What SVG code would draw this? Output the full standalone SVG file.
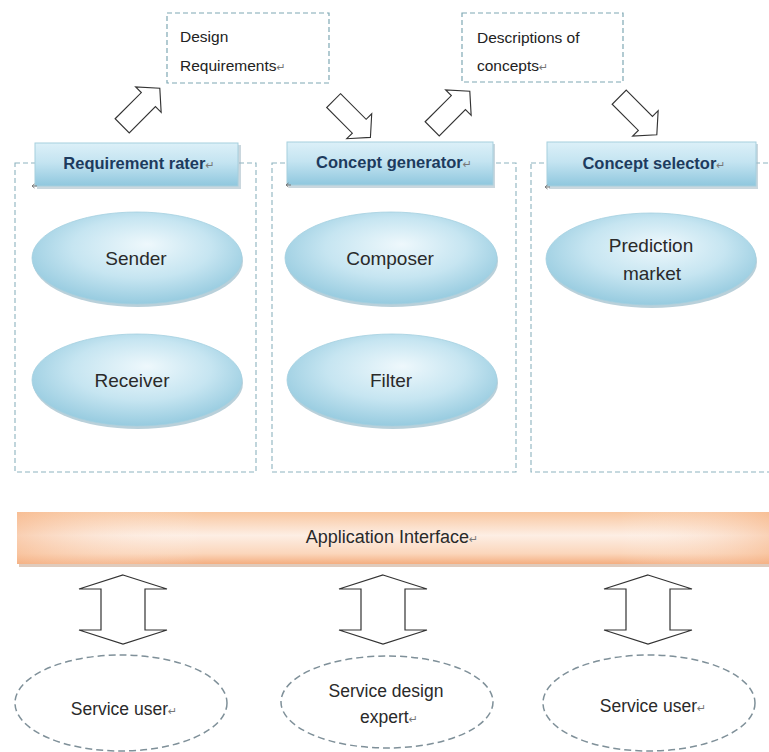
<svg xmlns="http://www.w3.org/2000/svg" width="769" height="752" viewBox="0 0 769 752">
  <defs>
    <linearGradient id="hdrFill" x1="0" y1="0" x2="0" y2="1">
      <stop offset="0" stop-color="#dcf0f8"/>
      <stop offset="0.45" stop-color="#c4e4f1"/>
      <stop offset="1" stop-color="#8fc7de"/>
    </linearGradient>
    <radialGradient id="ovalFill" cx="0.5" cy="0.42" r="0.6" fx="0.55" fy="0.35">
      <stop offset="0" stop-color="#eef8fc"/>
      <stop offset="0.55" stop-color="#c6e5f1"/>
      <stop offset="1" stop-color="#93c9de"/>
    </radialGradient>
    <linearGradient id="barFill" x1="0" y1="0" x2="0" y2="1">
      <stop offset="0" stop-color="#f9c7a0"/>
      <stop offset="0.45" stop-color="#fdeee4"/>
      <stop offset="0.8" stop-color="#fbd6bb"/>
      <stop offset="1" stop-color="#f4ae80"/>
    </linearGradient>
    <linearGradient id="barSide" x1="0" y1="0" x2="1" y2="0">
      <stop offset="0" stop-color="#f6b68a" stop-opacity="0.55"/>
      <stop offset="0.25" stop-color="#ffffff" stop-opacity="0"/>
      <stop offset="0.8" stop-color="#ffffff" stop-opacity="0"/>
      <stop offset="1" stop-color="#f6b68a" stop-opacity="0.5"/>
    </linearGradient>
    <!-- block arrow pointing right, centred on the origin -->
    <polygon id="blockArrow" points="-28,-10.5 11,-10.5 11,-19 28,0 11,19 11,10.5 -28,10.5"/>
    <!-- vertical two-headed block arrow, centred on x=0 -->
    <polygon id="dblArrow" points="0,575 44,589 22,589 22,630 44,630 0,644 -44,630 -22,630 -22,589 -44,589"/>
  </defs>
  <style>
    .note { fill: #ffffff; stroke: #7fa8b4; stroke-width: 1.2; stroke-dasharray: 5 3; }
    .zone { fill: none; stroke: #8db3bf; stroke-width: 1.1; stroke-dasharray: 5 3; }
    .hdr { fill: url(#hdrFill); stroke: #a6cfdd; stroke-width: 1; }
    .hdrShadow { fill: #9fb7c2; opacity: 0.55; }
    .oval { fill: url(#ovalFill); stroke: #a3cfe0; stroke-width: 0.8; }
    .ovalShadow { fill: #7fa9bb; opacity: 0.55; }
    .arrow { fill: #ffffff; stroke: #333333; stroke-width: 1.2; stroke-linejoin: miter; }
    .user { fill: #ffffff; stroke: #7f9099; stroke-width: 1.5; stroke-dasharray: 7 4; }
    .anchor { fill: none; stroke: #777777; stroke-width: 1; }
    text { font-family: "Liberation Sans", Arial, sans-serif; fill: #222222; }
    .t16 { font-size: 15.5px; }
    .hdrText { font-size: 16.5px; font-weight: bold; fill: #1d3b5e; text-anchor: middle; }
    .ovalText { font-size: 19px; text-anchor: middle; fill: #2a2a2a; }
    .barText { font-size: 18px; text-anchor: middle; fill: #2a2a2a; }
    .userText { font-size: 17.5px; text-anchor: middle; fill: #2a2a2a; }
    .pm { font-family: "DejaVu Sans", sans-serif; font-size: 11px; fill: #777777; font-weight: normal; }
  </style>

  <!-- dashed work areas -->
  <g id="zones">
    <rect class="zone" x="15" y="163" width="241" height="309"/>
    <rect class="zone" x="272" y="163" width="244" height="309"/>
    <rect class="zone" x="531" y="163" width="250" height="309"/>
  </g>

  <!-- artefact notes -->
  <g id="note-design-requirements">
    <rect class="note" x="167" y="13" width="162" height="70"/>
    <text class="t16" x="180" y="42">Design</text>
    <text class="t16" x="180" y="71">Requirements<tspan class="pm">↵</tspan></text>
  </g>
  <g id="note-concept-descriptions">
    <rect class="note" x="462" y="13" width="161" height="69"/>
    <text class="t16" x="477" y="43">Descriptions of</text>
    <text class="t16" x="477" y="71">concepts<tspan class="pm">↵</tspan></text>
  </g>

  <!-- flow arrows between notes and modules -->
  <g id="connectors">
    <use href="#blockArrow" class="arrow" transform="translate(141,107) rotate(-45) scale(0.95)"/>
    <use href="#blockArrow" class="arrow" transform="translate(352,119) rotate(45) scale(0.93)"/>
    <use href="#blockArrow" class="arrow" transform="translate(451,110) rotate(-45) scale(0.95)"/>
    <use href="#blockArrow" class="arrow" transform="translate(638,116) rotate(45) scale(0.95)"/>
    <use href="#dblArrow" class="arrow" transform="translate(123,0)"/>
    <use href="#dblArrow" class="arrow" transform="translate(383,0)"/>
    <use href="#dblArrow" class="arrow" transform="translate(648,0)"/>
  </g>

  <!-- module headers -->
  <g id="requirement-rater">
    <rect class="hdrShadow" x="37" y="145" width="204" height="44"/>
    <rect class="hdr" x="35" y="143" width="203" height="43"/>
    <text class="hdrText" x="139" y="169">Requirement rater<tspan class="pm">↵</tspan></text>
    <path class="anchor" d="M37,186 h-5 M34.5,184 l-2.5,2 l2.5,2"/>
  </g>
  <g id="concept-generator">
    <rect class="hdrShadow" x="289" y="144" width="206" height="44"/>
    <rect class="hdr" x="287" y="142" width="206" height="43"/>
    <text class="hdrText" x="394" y="168">Concept generator<tspan class="pm">↵</tspan></text>
    <path class="anchor" d="M291,185 h-5 M288.5,183 l-2.5,2 l2.5,2"/>
  </g>
  <g id="concept-selector">
    <rect class="hdrShadow" x="549" y="144" width="209" height="45"/>
    <rect class="hdr" x="547" y="142" width="209" height="44"/>
    <text class="hdrText" x="654" y="169">Concept selector<tspan class="pm">↵</tspan></text>
    <path class="anchor" d="M550,187 h-5 M547.5,185 l-2.5,2 l2.5,2"/>
  </g>

  <!-- module components -->
  <g id="sender">
    <ellipse class="ovalShadow" cx="138" cy="261" rx="105" ry="46"/>
    <ellipse class="oval" cx="137" cy="258" rx="105" ry="46"/>
    <text class="ovalText" x="136" y="265">Sender</text>
  </g>
  <g id="receiver">
    <ellipse class="ovalShadow" cx="138" cy="383" rx="105" ry="46"/>
    <ellipse class="oval" cx="137" cy="380" rx="105" ry="46"/>
    <text class="ovalText" x="132" y="387">Receiver</text>
  </g>
  <g id="composer">
    <ellipse class="ovalShadow" cx="392" cy="261" rx="106" ry="46"/>
    <ellipse class="oval" cx="391" cy="258" rx="106" ry="46"/>
    <text class="ovalText" x="390" y="265">Composer</text>
  </g>
  <g id="filter">
    <ellipse class="ovalShadow" cx="393" cy="383" rx="105" ry="46"/>
    <ellipse class="oval" cx="392" cy="380" rx="105" ry="46"/>
    <text class="ovalText" x="391" y="387">Filter</text>
  </g>
  <g id="prediction-market">
    <ellipse class="ovalShadow" cx="652" cy="262" rx="105" ry="46"/>
    <ellipse class="oval" cx="651" cy="259" rx="105" ry="46"/>
    <text class="ovalText" x="651" y="252">Prediction</text>
    <text class="ovalText" x="652" y="280">market</text>
  </g>

  <!-- application interface bar -->
  <g id="application-interface">
    <rect x="19" y="515" width="752" height="52" fill="#c9a891" opacity="0.6"/>
    <rect x="17" y="512" width="752" height="52" fill="url(#barFill)"/>
    <rect x="17" y="512" width="752" height="52" fill="url(#barSide)"/>
    <text class="barText" x="392" y="543">Application Interface<tspan class="pm">↵</tspan></text>
  </g>

  <!-- actors -->
  <g id="service-user-left">
    <ellipse class="user" cx="121" cy="703" rx="106" ry="48"/>
    <text class="userText" x="124" y="715">Service user<tspan class="pm">↵</tspan></text>
  </g>
  <g id="service-design-expert">
    <ellipse class="user" cx="387" cy="702" rx="106" ry="46"/>
    <text class="userText" x="386" y="697">Service design</text>
    <text class="userText" x="389" y="723">expert<tspan class="pm">↵</tspan></text>
  </g>
  <g id="service-user-right">
    <ellipse class="user" cx="649" cy="703" rx="106" ry="48"/>
    <text class="userText" x="653" y="712">Service user<tspan class="pm">↵</tspan></text>
  </g>
</svg>
